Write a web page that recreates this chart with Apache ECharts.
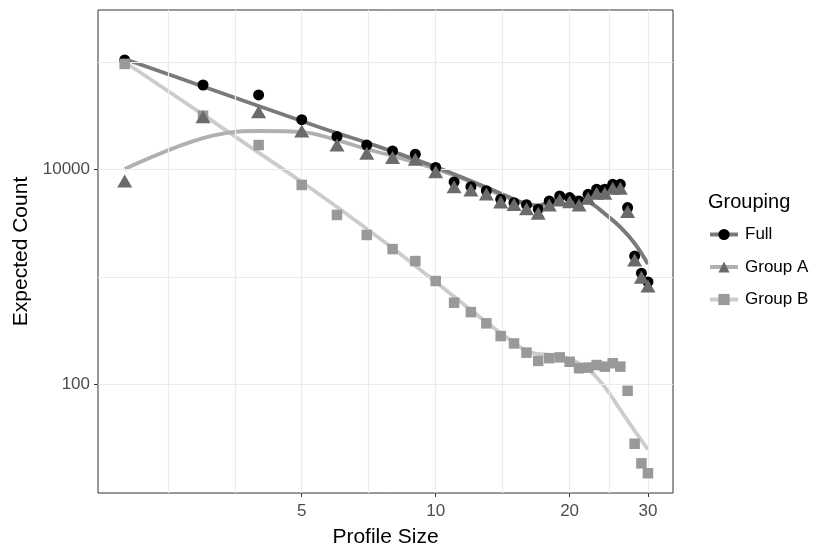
<!DOCTYPE html>
<html>
<head>
<meta charset="utf-8">
<script src="https://cdn.jsdelivr.net/npm/echarts@6/dist/echarts.min.js"></script>
<style>
  html, body { margin: 0; padding: 0; background: #fff; }
  #chart { width: 830px; height: 554px; }
</style>
</head>
<body>
<div id="chart"></div>
<script>
// observed counts per profile size
const profileSize = [2, 3, 4, 5, 6, 7, 8, 9, 10, 11, 12, 13, 14, 15, 16, 17, 18, 19, 20, 21, 22, 23, 24, 25, 26, 27, 28, 29, 30];
const fullCount = [104000, 60800, 49100, 28900, 20200, 16800, 14800, 13800, 10400, 7620, 6890, 6320, 5260, 4890, 4680, 4250, 5070, 5650, 5450, 5070, 5850, 6520, 6520, 7250, 7250, 4400, 1560, 1080, 895];
const groupACount = [7780, 30800, 34300, 22700, 16800, 14100, 12900, 12400, 9500, 6890, 6410, 5890, 4960, 4710, 4300, 3900, 4660, 5180, 5000, 4660, 5370, 5980, 5980, 6650, 6650, 4040, 1430, 990, 820];
const groupBCount = [95500, 31500, 16800, 7150, 3760, 2450, 1810, 1400, 914, 574, 469, 369, 281, 240, 197, 165, 175, 178, 162, 141, 143, 151, 146, 157, 146, 87, 28, 18.4, 14.9];

// smoothed curves
const curveSize = [2, 3, 4, 5, 6, 7, 8, 10, 12, 14, 16, 17, 18, 20, 22, 24, 26, 28, 30];
const fullCurve = [106000, 58900, 38800, 28100, 21700, 17700, 14600, 10500, 7780, 5960, 4750, 4600, 4970, 5520, 5000, 3860, 2900, 2050, 1315];
const groupACurve = [10060, 19500, 22700, 22200, 18700, 15400, 13300, 10060, 7620, 5770, 4750, 4600, 4970, 5520, 5000, 3860, 2900, 2050, 1315];
const groupBCurve = [99500, 32200, 14300, 7620, 4460, 2790, 1850, 896, 491, 300, 204, 192, 188, 172, 139, 94, 58, 37, 24.8];

// axis breaks
const xTicks = [5, 10, 20, 30];
const yTicks = [100, 10000];
const xGrid = [2.5, 3.536, 5, 7.071, 10, 14.14, 20, 24.49, 30];
const yGrid = [100, 1000, 10000, 100000];

const pairs = (xs, ys) => xs.map((x, i) => [x, ys[i]]);
const font = 'Liberation Sans, Arial, sans-serif';

const chart = echarts.init(document.getElementById('chart'));

const curve = (name, ys, lineColor, symbol, pointColor, z) => ({
    name: name,
    type: 'line',
    data: pairs(curveSize, ys),
    smooth: 0.4,
    showSymbol: false,
    symbol: symbol,
    z: z,
    silent: true,
    itemStyle: { color: pointColor },
    lineStyle: { color: lineColor, width: 3.8 },
});

const points = (name, ys, symbol, size, color, z) => ({
    name: name,
    type: 'scatter',
    data: pairs(profileSize, ys),
    symbol: symbol,
    symbolSize: size,
    z: z,
    silent: true,
    itemStyle: { color: color, opacity: 1 },
});

const option = {
    animation: false,
    backgroundColor: '#fff',
    textStyle: { fontFamily: font },
    title: {
        text: 'Grouping',
        left: 703,
        top: 187,
        textStyle: { fontSize: 20, fontWeight: 'normal', color: '#000', fontFamily: font },
    },
    legend: {
        orient: 'vertical',
        left: 703,
        top: 221,
        itemWidth: 28,
        itemHeight: 14,
        itemGap: 15.5,
        data: ['Full', 'Group A', 'Group B'],
        lineStyle: { width: 4 },
        textStyle: { fontSize: 17, color: '#000', fontFamily: font, padding: [0, 0, 0, 2] },
        selectedMode: false,
    },
    grid: {
        left: 98,
        top: 10,
        width: 575,
        height: 483,
        show: true,
        borderColor: '#333',
        borderWidth: 1,
        backgroundColor: '#fff',
    },
    xAxis: {
        type: 'log',
        logBase: 10,
        min: 1.742,
        max: 34.15,
        name: 'Profile Size',
        nameLocation: 'middle',
        nameGap: 34,
        nameTextStyle: { fontSize: 21, color: '#000', fontFamily: font },
        axisLine: { show: false },
        axisTick: { show: true, length: 4, lineStyle: { color: '#333' }, customValues: xTicks },
        axisLabel: {
            customValues: xTicks,
            fontSize: 17,
            color: '#4d4d4d',
            margin: 10,
            formatter: (v) => String(Math.round(v)),
        },
        splitLine: { show: false },
        minorTick: { show: false },
        minorSplitLine: { show: false },
    },
    yAxis: {
        type: 'log',
        logBase: 10,
        min: 9.75,
        max: 303000,
        name: 'Expected Count',
        nameLocation: 'middle',
        nameGap: 62,
        nameRotate: 90,
        nameTextStyle: { fontSize: 21, color: '#000', fontFamily: font },
        axisLine: { show: false },
        axisTick: { show: true, length: 4, lineStyle: { color: '#333' }, customValues: yTicks },
        axisLabel: {
            customValues: yTicks,
            fontSize: 17,
            color: '#4d4d4d',
            margin: 8,
            formatter: (v) => String(Math.round(v)),
        },
        splitLine: { show: false },
        minorTick: { show: false },
        minorSplitLine: { show: false },
    },
    series: [
        {
            name: 'grid',
            type: 'line',
            data: [],
            z: 1,
            silent: true,
            markLine: {
                silent: true,
                symbol: ['none', 'none'],
                label: { show: false },
                lineStyle: { color: '#ebebeb', width: 1.2, type: 'solid' },
                data: xGrid.map((v) => ({ xAxis: v })).concat(yGrid.map((v) => ({ yAxis: v }))),
            },
        },
        curve('Group B', groupBCurve, '#cccccc', 'rect', '#999999', 2),
        curve('Group A', groupACurve, '#b0b0b0', 'triangle', '#6b6b6b', 3),
        curve('Full', fullCurve, '#7a7a7a', 'circle', '#000000', 4),
        points('Full points', fullCount, 'circle', 11, '#000000', 5),
        points('Group B points', groupBCount, 'rect', 10.5, '#999999', 6),
        points('Group A points', groupACount, 'triangle', [15, 13], '#6b6b6b', 7),
    ],
};

chart.setOption(option);
</script>
</body>
</html>
